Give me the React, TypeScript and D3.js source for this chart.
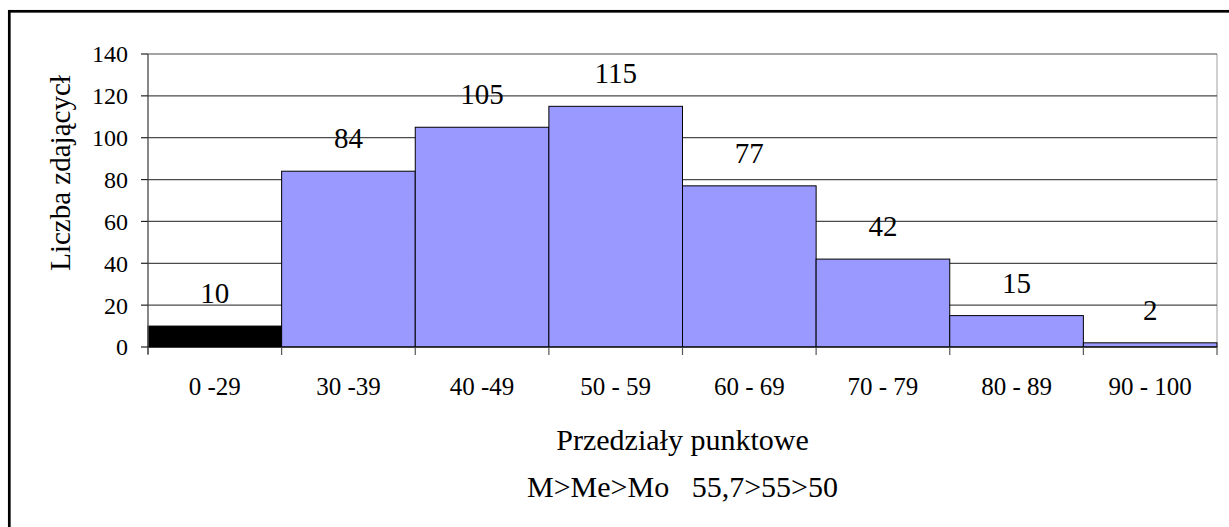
import { scaleBand, scaleLinear } from "d3";

const W = 1229;
const H = 527;
const PLOT = { left: 148, right: 1217, top: 54, bottom: 347 };

const bins = ["0 -29", "30 -39", "40 -49", "50 - 59", "60 - 69", "70 - 79", "80 - 89", "90 - 100"];
const counts = [10, 84, 105, 115, 77, 42, 15, 2];
const barColors = ["#000000", "#9999ff", "#9999ff", "#9999ff", "#9999ff", "#9999ff", "#9999ff", "#9999ff"];
const yTicks = [0, 20, 40, 60, 80, 100, 120, 140];

const FONT = '"Liberation Serif", "Times New Roman", serif';

export default function App() {
  const x = scaleBand<string>().domain(bins).range([PLOT.left, PLOT.right]).padding(0);
  const y = scaleLinear().domain([0, 140]).range([PLOT.bottom, PLOT.top]);
  const bw = x.bandwidth();
  const cx = (PLOT.left + PLOT.right) / 2;

  return (
    <svg
      width={W}
      height={H}
      viewBox={`0 0 ${W} ${H}`}
      style={{ position: "absolute", left: 0, top: 0, background: "#fff" }}
      fontFamily={FONT}
    >
      {/* outer frame, runs off the right and bottom edges */}
      <rect x={9.3} y={11.3} width={W + 20} height={H + 20} fill="none" stroke="#000" strokeWidth={2.7} />

      {/* plot frame */}
      <line x1={PLOT.right} x2={PLOT.right} y1={PLOT.top} y2={PLOT.bottom} stroke="#a0a0a0" strokeWidth={1} />

      {/* gridlines */}
      {yTicks.filter((t) => t > 0).map((t) => (
        <line key={t} x1={PLOT.left} x2={PLOT.right} y1={y(t)} y2={y(t)} stroke="#4a4a4a" strokeWidth={1.2} />
      ))}

      {/* bars */}
      {bins.map((b, i) => (
        <rect
          key={b}
          x={x(b)}
          y={y(counts[i])}
          width={bw}
          height={y(0) - y(counts[i])}
          fill={barColors[i]}
          stroke="#000"
          strokeWidth={1}
        />
      ))}

      {/* bar value labels */}
      {bins.map((b, i) => (
        <text key={b} x={(x(b) ?? 0) + bw / 2} y={y(counts[i]) - 23} textAnchor="middle" fontSize={29} fill="#000">
          {counts[i]}
        </text>
      ))}

      {/* y axis */}
      <line x1={PLOT.left} x2={PLOT.left} y1={PLOT.top} y2={PLOT.bottom + 7} stroke="#555" strokeWidth={1.4} />
      {yTicks.map((t) => (
        <g key={t}>
          <line x1={PLOT.left - 7} x2={PLOT.left} y1={y(t)} y2={y(t)} stroke="#222" strokeWidth={1.2} />
          <text x={128} y={y(t)} dy="0.35em" textAnchor="end" fontSize={24} fill="#000">
            {t}
          </text>
        </g>
      ))}

      {/* x axis */}
      <line x1={PLOT.left} x2={PLOT.right} y1={y(0)} y2={y(0)} stroke="#000" strokeWidth={1.2} />
      {[...bins.map((b) => x(b) ?? 0), PLOT.right].map((px, i) => (
        <line key={i} x1={px} x2={px} y1={y(0)} y2={y(0) + 8} stroke="#555" strokeWidth={1.2} />
      ))}
      {bins.map((b) => (
        <text key={b} x={(x(b) ?? 0) + bw / 2} y={395} textAnchor="middle" fontSize={25} fill="#000">
          {b}
        </text>
      ))}

      {/* axis titles */}
      <text x={cx} y={450} textAnchor="middle" fontSize={30} fill="#000">
        Przedziały punktowe
      </text>
      <text x={cx} y={497} textAnchor="middle" fontSize={30} fill="#000" style={{ whiteSpace: "pre" }}>
        {"M>Me>Mo   55,7>55>50"}
      </text>
      <text
        transform={`translate(70, 173) rotate(-90)`}
        textAnchor="middle"
        fontSize={29}
        fill="#000"
      >
        Liczba zdającycł
      </text>
    </svg>
  );
}
